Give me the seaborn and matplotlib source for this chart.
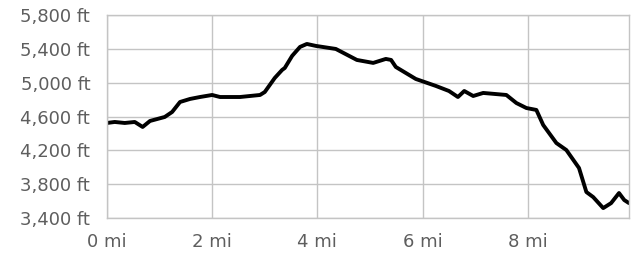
import matplotlib
matplotlib.use("Agg")
import matplotlib.pyplot as plt
import seaborn as sns
import pandas as pd

# elevation profile
distance_mi = [0.00, 0.15, 0.34, 0.53, 0.68, 0.82, 1.10, 1.24, 1.39, 1.58,
               1.77, 2.00, 2.15, 2.53, 2.91, 3.00, 3.19, 3.33, 3.38, 3.52,
               3.67, 3.80, 3.97, 4.35, 4.75, 5.06, 5.30, 5.40, 5.49, 5.87,
               6.25, 6.50, 6.67, 6.79, 6.96, 7.15, 7.59, 7.78, 7.97, 8.16,
               8.29, 8.54, 8.73, 8.97, 9.11, 9.24, 9.43, 9.58, 9.73, 9.83, 9.92]
elevation_ft = [4524, 4536, 4524, 4536, 4477, 4548, 4595, 4654, 4772, 4808,
                4831, 4855, 4831, 4831, 4855, 4890, 5056, 5151, 5174, 5317,
                5423, 5458, 5435, 5399, 5269, 5234, 5281, 5269, 5186, 5044,
                4962, 4902, 4831, 4902, 4843, 4879, 4855, 4760, 4701, 4678,
                4500, 4287, 4204, 3992, 3708, 3648, 3518, 3577, 3696, 3613, 3577]

x_ticks = [0, 2, 4, 6, 8]
x_labels = ["0 mi", "2 mi", "4 mi", "6 mi", "8 mi"]
y_ticks = [3400, 3800, 4200, 4600, 5000, 5400, 5800]
y_labels = ["3,400 ft", "3,800 ft", "4,200 ft", "4,600 ft", "5,000 ft", "5,400 ft", "5,800 ft"]

df = pd.DataFrame({"dist": distance_mi, "elev": elevation_ft})

sns.set_style("whitegrid")
plt.rcParams["font.family"] = ["DejaVu Sans"]

fig = plt.figure(figsize=(6.36, 2.59), dpi=100)
ax = fig.add_axes([0.168, 0.158, 0.821, 0.784])
sns.lineplot(data=df, x="dist", y="elev", color="black", linewidth=2.8, ax=ax)

ax.set_xlim(0, 9.92)
ax.set_ylim(3400, 5800)
ax.set_xticks(x_ticks)
ax.set_xticklabels(x_labels)
ax.set_yticks(y_ticks)
ax.set_yticklabels(y_labels)
ax.set_xlabel("")
ax.set_ylabel("")
ax.grid(True, color="#c4c4c4", linewidth=1.0)
for s in ax.spines.values():
    s.set_color("#c4c4c4")
    s.set_linewidth(1.0)
ax.tick_params(axis="both", length=0, labelsize=13, labelcolor="#5e5e5e")
ax.tick_params(axis="y", pad=12)
ax.tick_params(axis="x", pad=11)

fig.savefig("out.png", dpi=100)
plt.close(fig)
